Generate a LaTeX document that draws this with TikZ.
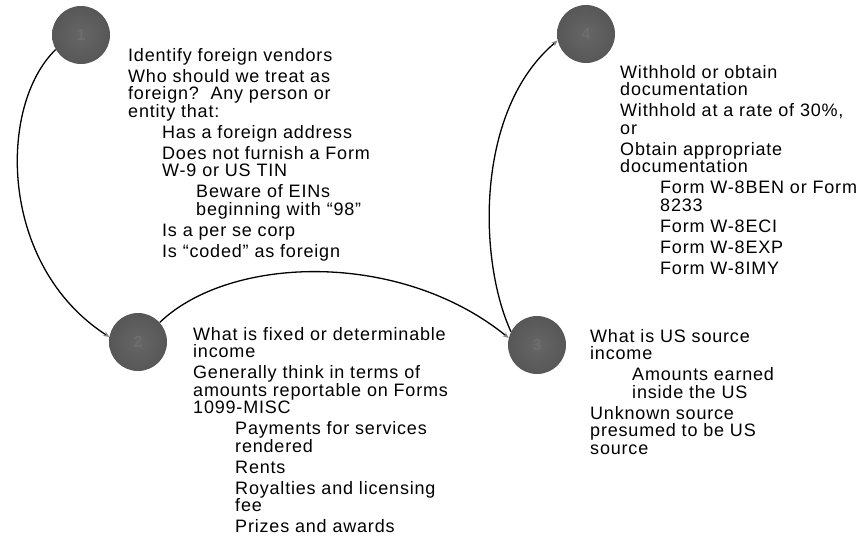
\documentclass[tikz,border=0pt]{standalone}
\usepackage{fontspec}
\setmainfont{Liberation Sans}[LetterSpace=4.5]
\usetikzlibrary{arrows.meta}
\definecolor{ballc}{HTML}{575757}
\definecolor{ballin}{HTML}{666666}
\definecolor{ballnum}{HTML}{6E6E6E}
\tikzset{
  ball/.style={circle, minimum size=58pt, inner sep=0pt, draw=none,
    inner color=ballin, outer color=ballc, text=ballnum,
    font=\fontsize{16}{16}\selectfont\bfseries},
  txt/.style={anchor=north west, inner sep=0pt, align=left,
    font=\fontsize{18}{17.5}\selectfont, text=black},
  conn/.style={line width=1.3pt, draw=black,
    -{Stealth[length=6pt, width=5pt, color=gray]}},
}
\newcommand{\tstrut}{\rule{0pt}{14pt}}
\newcommand{\gap}{\\[3.5pt]}
\begin{document}
\begin{tikzpicture}[x=1pt, y=-1pt]
\useasboundingbox (0,0) rectangle (867,538);
% balls
\node[ball] (c1) at (81,35) {1};
\node[ball] (c2) at (138,342) {2};
\node[ball] (c3) at (537,345) {3};
\node[ball] (c4) at (586,34) {4};
% connectors
\draw[conn] (c1.210) .. controls (-2,105) and (-2,265) .. (c2.170);
\draw[conn] (c2.42) .. controls (230,255) and (400,250) .. (c3.166);
\draw[conn] (c3.153) .. controls (478,260) and (475,110) .. (c4.193);
% texts
\node[txt] (t1) at (128,47) {\tstrut Identify foreign vendors\gap
Who should we treat as\\
foreign?\ \ Any person or\\
entity that:\gap
\hspace*{34pt}Has a foreign address\gap
\hspace*{34pt}Does not furnish a Form\\
\hspace*{34pt}W-9 or US TIN\gap
\hspace*{68pt}Beware of EINs\\
\hspace*{68pt}beginning with ``98''\gap
\hspace*{34pt}Is a per se corp\gap
\hspace*{34pt}Is ``coded'' as foreign};
\node[txt] (t4) at (620,64) {\tstrut Withhold or obtain\\
documentation\gap
Withhold at a rate of 30\%,\\
or\gap
Obtain appropriate\\
documentation\gap
\hspace*{40pt}Form W-8BEN or Form\\
\hspace*{40pt}8233\gap
\hspace*{40pt}Form W-8ECI\gap
\hspace*{40pt}Form W-8EXP\gap
\hspace*{40pt}Form W-8IMY};
\node[txt] (t2) at (193,326) {\tstrut What is fixed or determinable\\
income\gap
Generally think in terms of\\
amounts reportable on Forms\\
1099-MISC\gap
\hspace*{42pt}Payments for services\\
\hspace*{42pt}rendered\gap
\hspace*{42pt}Rents\gap
\hspace*{42pt}Royalties and licensing\\
\hspace*{42pt}fee\gap
\hspace*{42pt}Prizes and awards};
\node[txt] (t3) at (590,328) {\tstrut What is US source\\
income\gap
\hspace*{42pt}Amounts earned\\
\hspace*{42pt}inside the US\gap
Unknown source\\
presumed to be US\\
source};
\end{tikzpicture}
\end{document}
